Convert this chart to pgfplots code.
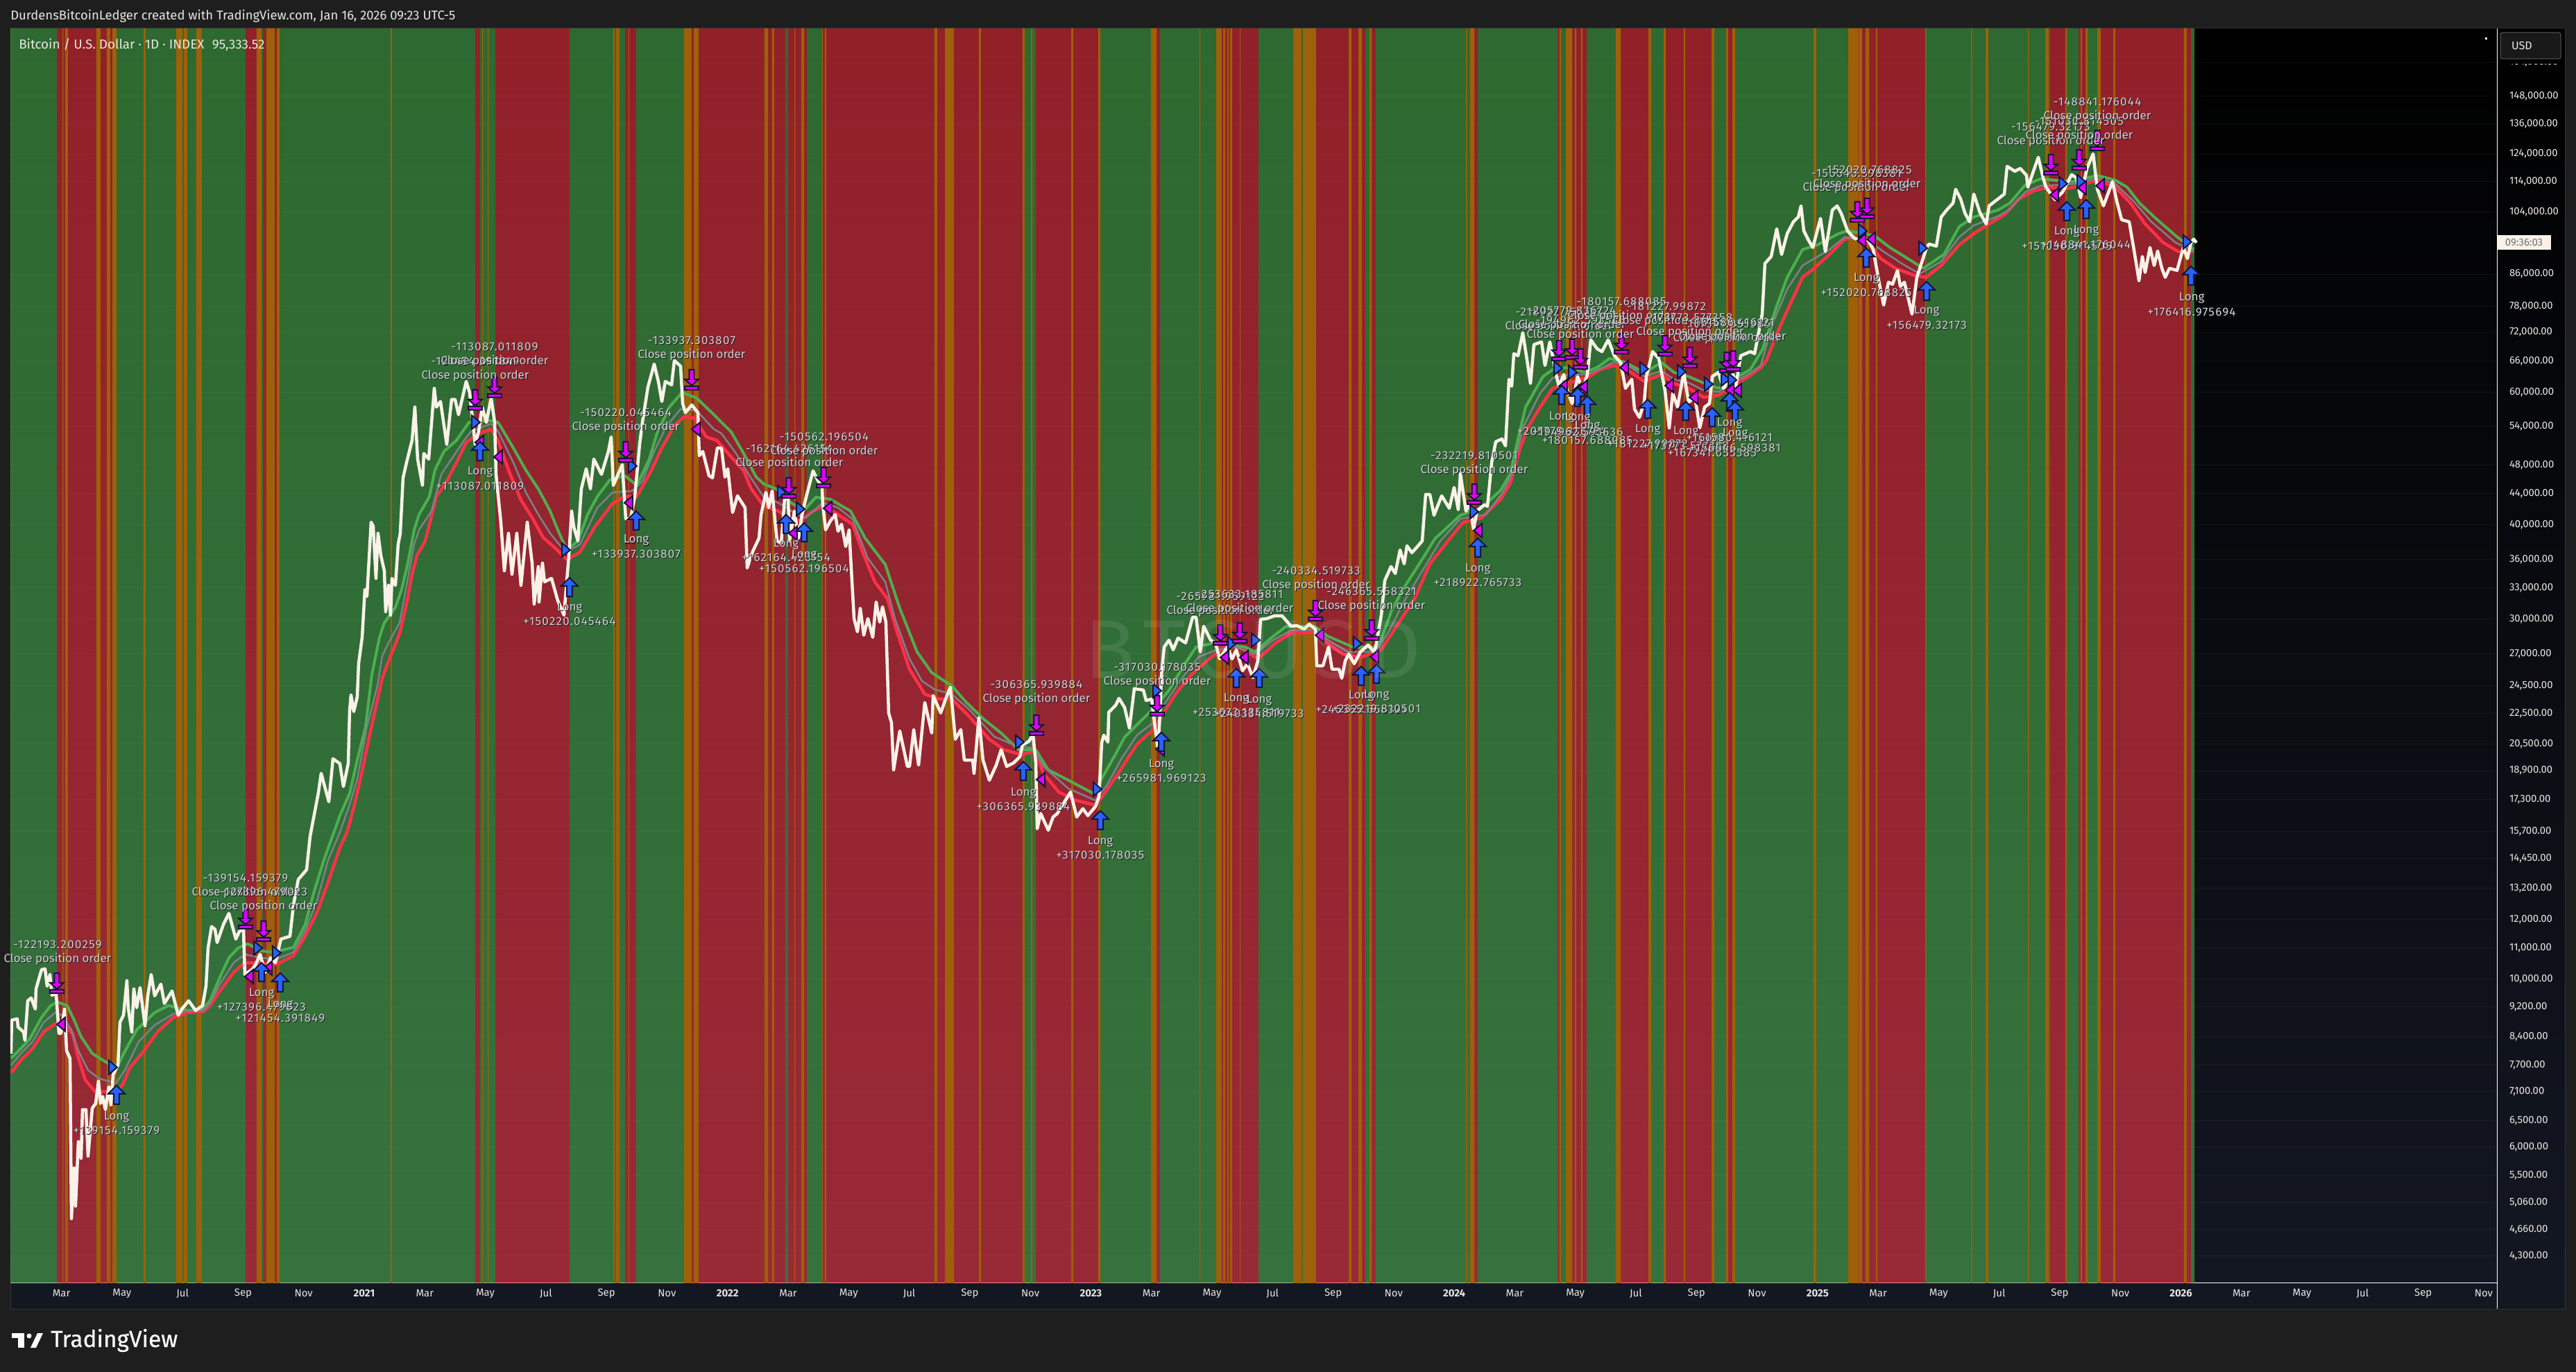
\documentclass[border=0pt]{standalone}
\usepackage{fontspec}
\setmainfont{Fira Sans}
\usepackage{pgfplots}
\usepackage{pgfplotstable}
\pgfplotsset{compat=1.18}

\definecolor{pagebg}{RGB}{30,30,30}
\definecolor{panelbot}{RGB}{19,23,34}
\definecolor{bandgreen}{RGB}{76,175,80}
\definecolor{bandred}{RGB}{242,54,69}
\definecolor{bandorange}{RGB}{158,96,8}
\definecolor{pricewhite}{RGB}{250,242,232}
\definecolor{emagreen}{RGB}{76,175,80}
\definecolor{emared}{RGB}{255,48,72}
\definecolor{emagray}{RGB}{125,128,140}
\definecolor{longblue}{RGB}{41,98,255}
\definecolor{closemag}{RGB}{224,0,255}
\definecolor{markedge}{RGB}{20,24,52}
\definecolor{labeltext}{RGB}{208,208,212}
\definecolor{labelshade}{RGB}{25,28,36}
\definecolor{tickwhite}{RGB}{232,230,226}

% one chart column = 0.25mm; readings are columns and rows of the chart, the
% price scale is fixed by the axis ticks (472.5 rows per e-fold, 10000 at row 1412)
\def\U{0.25mm}
\newcommand{\xc}{2020+(\thisrow{px}-1.3)/523.7}
\newcommand{\yc}{10000*exp((1412-\thisrow{py})/472.5)}
\newcommand{\onoff}{3957+178043*\thisrow{on}}

\pgfdeclareplotmark{longup}{%
  \pgfpathmoveto{\pgfpoint{0*\U}{14*\U}}
  \pgfpathlineto{\pgfpoint{12*\U}{2*\U}}
  \pgfpathlineto{\pgfpoint{4*\U}{2*\U}}
  \pgfpathlineto{\pgfpoint{4*\U}{-13*\U}}
  \pgfpathlineto{\pgfpoint{-4*\U}{-13*\U}}
  \pgfpathlineto{\pgfpoint{-4*\U}{2*\U}}
  \pgfpathlineto{\pgfpoint{-12*\U}{2*\U}}
  \pgfpathclose
  \pgfusepathqfillstroke}
\pgfdeclareplotmark{closedown}{%
  \pgfpathmoveto{\pgfpoint{-3.5*\U}{14*\U}}
  \pgfpathlineto{\pgfpoint{3.5*\U}{14*\U}}
  \pgfpathlineto{\pgfpoint{3.5*\U}{0*\U}}
  \pgfpathlineto{\pgfpoint{10*\U}{0*\U}}
  \pgfpathlineto{\pgfpoint{0*\U}{-9*\U}}
  \pgfpathlineto{\pgfpoint{-10*\U}{0*\U}}
  \pgfpathlineto{\pgfpoint{-3.5*\U}{0*\U}}
  \pgfpathclose
  \pgfpathmoveto{\pgfpoint{-10*\U}{-10*\U}}
  \pgfpathlineto{\pgfpoint{10*\U}{-10*\U}}
  \pgfpathlineto{\pgfpoint{10*\U}{-15*\U}}
  \pgfpathlineto{\pgfpoint{-10*\U}{-15*\U}}
  \pgfpathclose
  \pgfusepathqfillstroke}
\pgfdeclareplotmark{triright}{%
  \pgfpathmoveto{\pgfpoint{-6*\U}{10*\U}}
  \pgfpathlineto{\pgfpoint{6*\U}{0*\U}}
  \pgfpathlineto{\pgfpoint{-6*\U}{-10*\U}}
  \pgfpathclose
  \pgfusepathqfillstroke}
\pgfdeclareplotmark{trileft}{%
  \pgfpathmoveto{\pgfpoint{6*\U}{10*\U}}
  \pgfpathlineto{\pgfpoint{-6*\U}{0*\U}}
  \pgfpathlineto{\pgfpoint{6*\U}{-10*\U}}
  \pgfpathclose
  \pgfusepathqfillstroke}

\pgfplotstableread{
px on
15 1
82 0
168 1
354 0
377 1
379 0
403 1
685 0
692 1
714 0
821 1
901 0
917 1
986 0
1132 1
1136 0
1163 1
1185 0
1477 1
1493 0
1586 1
1667 0
1672 1
1761 0
1814 1
1897 0
1968 1
1977 0
1983 1
2125 0
2130 1
2245 0
2248 1
2266 0
2287 1
2336 0
2376 1
2401 0
2471 1
2491 0
2501 1
2678 0
2776 1
2955 0
2979 1
2996 0
3009 1
3028 0
3158 1
3163 0
}\greenbands

\pgfplotstableread{
px on
82 1
168 0
354 1
377 0
379 1
403 0
685 1
692 0
714 1
821 0
901 1
917 0
986 1
1132 0
1136 1
1163 0
1185 1
1477 0
1493 1
1586 0
1667 1
1672 0
1761 1
1814 0
1897 1
1968 0
1977 1
1983 0
2125 1
2130 0
2245 1
2248 0
2266 1
2287 0
2336 1
2376 0
2401 1
2471 0
2491 1
2501 0
2678 1
2776 0
2955 1
2979 0
2996 1
3009 0
3028 1
3158 0
}\redbands

\pgfplotstableread{
px on
90 1
91.5 0
94 1
98 0
139 1
145 0
154 1
159 0
162 1
168 0
207 1
210 0
254 1
263 0
265 1
270 0
283 1
291 0
370 1
377 0
384 1
396 0
399 1
403 0
563 1
565 0
695 1
696.5 0
703 1
704.5 0
884 1
886 0
888 1
893 0
906 1
907 0
986 1
997 0
1000 1
1007 0
1102 1
1107 0
1113 1
1116 0
1145 1
1146.5 0
1155 1
1159 0
1185 1
1186 0
1189 1
1191 0
1347 1
1351 0
1362 1
1375 0
1411 1
1414 0
1474 1
1477 0
1486 1
1488 0
1544 1
1547 0
1583 1
1586 0
1659 1
1667 0
1729 1
1730 0
1753 1
1761 0
1763 1
1766 0
1769 1
1771 0
1773 1
1776 0
1787 1
1788 0
1864 1
1876 0
1878 1
1897 0
1944 1
1948 0
1958 1
1963 0
1974 1
1977 0
2113 1
2114.5 0
2119 1
2125 0
2248 1
2250 0
2257 1
2266 0
2270 1
2272 0
2279 1
2281 0
2329 1
2336 0
2376 1
2380 0
2398 1
2401 0
2427 1
2429 0
2467 1
2471 0
2488 1
2491 0
2497 1
2501 0
2614 1
2618 0
2664 1
2678 0
2679 1
2684 0
2689 1
2694 0
2704 1
2706 0
2775 1
2776.5 0
2841 1
2842.5 0
2862 1
2866 0
2923 1
2924.5 0
2948 1
2953 0
2977 1
2979 0
2999 1
3001 0
3006 1
3009 0
3023 1
3028 0
3046 1
3049 0
3148 1
3152 0
}\orangebands

\pgfplotstableread{
px py
16 1519
17 1471
25 1469
26 1481
34 1488
36 1500
40 1443
45 1439
51 1455
52 1426
60 1398
65 1397
68 1422
72 1405
75 1435
81 1433
85 1490
88 1490
93 1455
96 1515
101 1526
103 1757
107 1684
109 1739
113 1646
117 1670
119 1600
124 1600
127 1667
133 1598
138 1591
142 1559
145 1591
148 1581
152 1600
157 1567
160 1593
163 1550
170 1536
173 1474
178 1464
183 1414
185 1454
190 1488
193 1426
197 1453
202 1424
209 1479
213 1436
218 1405
223 1436
232 1419
237 1447
248 1429
257 1464
263 1454
272 1443
282 1457
292 1450
297 1422
300 1367
305 1336
310 1340
313 1359
322 1333
330 1317
340 1354
345 1343
351 1340
353 1405
363 1398
368 1392
375 1376
382 1402
390 1381
397 1388
405 1354
418 1350
423 1305
430 1268
442 1254
447 1206
459 1143
463 1115
474 1156
480 1094
490 1101
495 1134
502 1101
504 1026
506 1002
510 1026
515 1005
517 957
522 919
526 850
529 860
535 753
538 759
542 834
545 769
549 801
554 823
556 882
560 844
563 887
565 834
570 844
574 785
577 769
581 689
586 667
594 635
598 587
602 662
609 700
611 654
618 662
626 560
629 587
635 579
644 641
651 576
656 576
661 598
672 550
677 566
685 641
690 622
695 587
701 609
708 574
713 609
715 684
722 753
727 823
733 769
738 828
745 769
751 844
760 753
767 812
770 871
776 817
777 868
782 812
785 839
795 834
804 866
813 887
820 801
824 737
827 759
833 780
838 705
845 676
851 705
856 662
867 684
877 651
881 630
884 700
897 670
902 748
909 748
915 716
922 641
926 609
934 558
943 525
949 550
954 579
959 550
968 555
972 520
981 528
984 582
988 595
997 584
1006 595
1008 657
1013 651
1022 686
1027 689
1034 646
1040 646
1045 688
1049 676
1056 739
1063 715
1074 732
1077 819
1085 795
1094 776
1097 742
1104 710
1108 732
1113 708
1120 780
1126 783
1131 720
1136 717
1138 780
1145 737
1151 776
1156 742
1163 713
1172 679
1179 693
1185 703
1186 727
1190 764
1197 751
1204 742
1208 766
1213 756
1219 788
1224 764
1227 819
1231 892
1236 911
1240 877
1245 916
1251 892
1258 919
1263 868
1268 897
1272 875
1277 897
1281 1028
1285 1042
1288 1110
1297 1054
1308 1105
1311 1105
1317 1052
1324 1103
1333 1013
1343 1057
1345 1003
1356 1028
1363 1008
1370 991
1377 1066
1385 1052
1390 1096
1402 1096
1404 1115
1411 1035
1417 1096
1426 1125
1436 1103
1443 1081
1451 1105
1461 1100
1470 1091
1474 1074
1483 1069
1489 1059
1493 1100
1495 1195
1500 1173
1511 1197
1518 1178
1524 1173
1543 1142
1552 1178
1561 1166
1568 1176
1579 1163
1584 1149
1588 1071
1591 1060
1597 1070
1598 1027
1608 1017
1613 1007
1621 1020
1628 1050
1635 993
1648 995
1652 1010
1660 1008
1663 1033
1669 1080
1672 1030
1674 973
1678 933
1685 923
1691 937
1698 920
1709 927
1719 890
1724 890
1730 940
1735 903
1745 923
1752 927
1758 950
1769 933
1776 950
1782 937
1791 967
1798 957
1806 977
1813 953
1817 893
1826 892
1837 888
1848 888
1861 903
1869 902
1880 907
1887 900
1896 907
1898 960
1907 960
1915 933
1920 965
1930 965
1934 978
1939 953
1944 943
1952 957
1961 940
1972 930
1980 940
1983 933
1991 887
1996 837
2005 817
2011 827
2018 793
2024 813
2028 787
2035 797
2044 787
2050 780
2055 713
2061 713
2067 743
2078 715
2089 733
2096 703
2102 735
2105 683
2113 737
2118 725
2124 763
2129 737
2139 728
2144 730
2150 667
2156 637
2165 633
2170 643
2175 547
2179 557
2182 510
2188 513
2195 480
2200 513
2206 553
2211 497
2222 493
2227 527
2234 493
2243 540
2247 557
2254 540
2259 563
2266 582
2274 543
2281 563
2288 540
2293 490
2302 503
2309 507
2318 490
2327 513
2336 523
2343 560
2352 547
2356 590
2363 602
2370 580
2373 543
2382 507
2391 517
2400 563
2406 617
2411 567
2418 587
2427 537
2434 580
2443 573
2450 617
2457 587
2464 582
2468 543
2477 537
2484 560
2498 540
2502 557
2509 513
2523 507
2529 510
2540 453
2544 380
2553 370
2561 330
2568 367
2576 337
2585 320
2592 313
2596 297
2600 333
2607 347
2613 357
2624 315
2631 363
2641 303
2648 297
2654 308
2663 333
2672 343
2680 347
2692 345
2700 360
2708 405
2715 440
2722 407
2728 410
2735 390
2739 413
2745 407
2756 453
2763 400
2776 360
2780 352
2791 355
2798 313
2806 303
2815 293
2819 273
2826 287
2832 307
2839 320
2845 280
2854 307
2863 323
2867 297
2880 287
2889 280
2893 240
2904 247
2912 243
2921 253
2923 270
2930 250
2938 227
2945 257
2949 270
2962 288
2973 277
2986 252
2993 257
2999 285
3008 243
3017 222
3023 273
3032 297
3045 262
3051 290
3058 317
3069 320
3077 367
3083 405
3088 370
3092 393
3099 357
3105 383
3110 362
3116 387
3121 400
3127 387
3138 390
3147 357
3153 373
3158 350
3162 345
3166 350
}\price

\pgfplotstableread{
px py
16 1547
30 1529
47 1512
63 1488
80 1476
90 1474
105 1491
112 1522
123 1557
137 1574
167 1574
177 1564
187 1540
207 1516
227 1488
250 1467
270 1460
293 1459
303 1450
317 1429
337 1402
353 1388
400 1390
423 1378
440 1350
457 1316
477 1261
490 1222
501 1198
511 1160
522 1112
533 1059
544 1010
551 978
561 951
576 914
586 871
594 828
601 801
613 780
629 716
644 694
658 667
672 638
690 625
708 619
718 635
733 678
751 721
768 748
783 775
801 791
817 807
836 796
858 759
883 726
901 716
918 716
936 684
954 646
972 614
986 601
1001 603
1018 630
1033 635
1054 659
1072 679
1083 705
1101 730
1122 737
1136 747
1154 751
1169 739
1186 730
1208 742
1229 756
1243 795
1261 839
1279 863
1293 911
1311 965
1333 1001
1354 1008
1372 1008
1397 1033
1426 1066
1447 1081
1472 1088
1492 1083
1504 1115
1526 1142
1551 1154
1579 1161
1595 1140
1617 1107
1639 1073
1661 1053
1676 1030
1695 1000
1717 973
1743 950
1765 933
1787 933
1813 950
1839 927
1861 913
1895 912
1913 927
1935 943
1961 948
1991 937
2013 903
2039 863
2061 813
2087 780
2109 753
2135 747
2163 720
2177 697
2191 647
2202 617
2220 587
2238 560
2291 543
2306 533
2327 527
2345 533
2370 550
2395 540
2413 553
2434 560
2456 573
2477 570
2498 557
2520 543
2538 530
2546 520
2563 477
2581 437
2598 400
2615 387
2637 367
2659 345
2672 343
2693 350
2711 373
2732 387
2759 397
2776 400
2798 383
2824 353
2845 337
2867 323
2889 310
2910 287
2932 275
2954 270
2975 273
2997 268
3023 260
3049 270
3071 293
3092 323
3118 350
3140 363
3162 363
}\emalow

\pgfplotstableread{
px py
16 1526
30 1512
43 1498
60 1467
73 1450
83 1445
97 1450
107 1471
117 1495
133 1519
157 1534
170 1536
180 1516
197 1485
223 1460
243 1450
270 1457
290 1457
303 1443
317 1409
330 1381
343 1367
357 1361
377 1371
393 1373
423 1366
440 1333
453 1285
467 1240
490 1176
504 1144
515 1096
527 1048
536 973
547 919
554 898
570 876
579 850
588 812
597 764
604 742
619 716
627 678
640 651
658 635
676 609
704 606
718 609
740 646
758 678
776 705
793 737
804 764
817 793
833 780
847 742
861 716
879 692
901 686
918 700
936 662
947 625
965 587
983 566
1004 574
1026 595
1054 623
1072 654
1090 688
1101 698
1119 705
1136 722
1158 737
1176 717
1197 720
1226 737
1247 776
1276 814
1297 877
1322 940
1343 970
1372 989
1393 1013
1418 1037
1443 1057
1468 1081
1493 1081
1511 1110
1540 1125
1576 1144
1608 1087
1621 1063
1647 1037
1661 1023
1684 997
1706 960
1724 933
1750 927
1772 930
1795 933
1809 940
1832 920
1854 903
1895 903
1913 917
1950 933
1987 933
2006 880
2024 847
2054 800
2068 777
2105 743
2135 733
2163 707
2177 683
2188 633
2199 587
2224 543
2238 533
2259 530
2284 537
2302 530
2320 517
2341 522
2370 537
2395 523
2413 537
2434 543
2457 553
2477 560
2498 547
2523 533
2541 503
2559 447
2576 400
2598 360
2620 353
2650 337
2663 333
2702 340
2724 357
2745 370
2772 387
2802 367
2824 327
2845 313
2880 303
2897 293
2919 267
2941 258
2962 260
2988 262
3023 253
3049 260
3066 270
3084 293
3105 313
3136 340
3162 360
}\emahigh

\pgfplotstableread{
px py
16 1536
30 1519
47 1502
63 1474
80 1460
90 1464
103 1485
113 1515
127 1543
143 1555
167 1562
180 1543
200 1502
223 1478
250 1462
270 1458
292 1458
303 1447
317 1419
337 1388
353 1376
377 1381
398 1383
423 1373
440 1342
457 1299
473 1240
490 1200
504 1160
515 1123
529 1048
544 989
551 946
561 925
576 898
586 844
597 785
604 764
622 737
636 684
651 662
669 635
679 622
708 611
718 622
740 667
758 710
776 742
793 769
815 796
836 785
861 732
883 710
911 708
926 694
943 651
961 614
981 590
1004 592
1029 619
1040 625
1061 654
1079 684
1101 717
1122 725
1144 739
1161 747
1186 725
1208 732
1229 749
1251 805
1276 839
1290 892
1311 950
1329 982
1347 994
1372 1001
1397 1023
1433 1062
1461 1074
1490 1079
1504 1105
1540 1137
1579 1154
1595 1133
1617 1093
1639 1060
1661 1043
1680 1013
1702 980
1728 947
1754 937
1780 933
1809 943
1835 923
1861 909
1895 908
1913 922
1943 940
1983 940
2002 910
2024 867
2046 830
2076 780
2105 748
2142 742
2166 710
2181 680
2195 617
2220 567
2238 545
2263 540
2288 540
2306 532
2327 522
2348 528
2370 543
2395 535
2413 547
2434 552
2456 563
2477 565
2498 552
2523 538
2538 527
2555 467
2576 417
2598 383
2615 373
2637 360
2659 342
2693 347
2715 363
2741 380
2767 395
2798 377
2824 342
2845 325
2880 312
2897 302
2919 277
2941 268
2962 267
2993 265
3023 257
3049 265
3075 290
3101 320
3136 350
3162 362
}\emamid

\pgfplotstableread{
px py
168 1579
377 1402
404 1417
692 651
821 847
917 751
1133 756
1159 768
1475 1112
1586 1183
1674 1070
1782 978
1815 978
1962 975
1984 972
2130 790
2251 570
2274 573
2288 585
2375 590
2430 593
2468 602
2493 580
2501 593
2690 372
2777 420
2979 305
3007 302
3158 398
}\longs

\pgfplotstableread{
px py
82 1417
354 1324
380 1342
685 576
713 558
902 651
997 547
1137 703
1187 688
1494 1045
1668 1017
1759 915
1787 912
1896 880
1977 908
2125 712
2247 505
2266 503
2278 517
2337 495
2400 498
2436 515
2489 522
2498 520
2677 305
2691 300
2956 237
2997 230
3023 202
}\closes

\pgfplotstableread{
px py
163 1539
372 1367
399 1374
686 609
816 793
912 672
1127 710
1154 734
1470 1070
1582 1138
1668 996
1776 928
1810 923
1957 928
2125 738
2246 531
2267 537
2370 532
2424 536
2463 554
2487 547
2497 548
2685 333
2772 358
2974 265
3000 262
3153 349
}\crossup

\pgfplotstableread{
px py
88 1477
359 1408
386 1396
691 638
718 659
906 725
1003 619
1143 769
1193 733
1500 1124
1672 1080
1765 948
1793 948
1902 916
1981 947
2130 765
2253 557
2273 563
2282 558
2341 530
2406 556
2441 573
2493 563
2504 563
2683 347
2697 345
2961 281
3001 271
3027 268
}\crossdown

% one text line at chart column/row, with the dark offset TradingView gives it
\newcommand{\lab}[3]{%
  \node[text=labelshade,font=\labfont] at ({((#1)-15+1)*\U},{(1850-(#2)-1)*\U}) {#3};
  \node[text=labeltext,font=\labfont] at ({((#1)-15)*\U},{(1850-(#2))*\U}) {#3};}
\newcommand{\labfont}{\fontsize{12pt}{14pt}\selectfont}
\newcommand{\wide}[1]{{\addfontfeatures{LetterSpace=8}#1}}
\newcommand{\closelab}[3]{\lab{#1}{#2}{\wide{#3}}\lab{#1}{#2+21}{Close position order}}
\newcommand{\longlab}[3]{\lab{#1}{#2}{Long}\lab{#1}{#2+20}{\wide{#3}}}

\begin{document}
\begin{tikzpicture}
% page and panels
\fill[pagebg] (-15*\U,-128*\U) rectangle (3698*\U,1850*\U);
\useasboundingbox (-15*\U,-128*\U) rectangle (3698*\U,1850*\U);
\shade[top color=black,bottom color=panelbot] (0,0) rectangle (3682*\U,1809*\U);
\fill[panelbot] (0,-37*\U) rectangle (3682*\U,0);
\draw[black!60!gray,line width=\U] (0,-37*\U) rectangle (3682*\U,1809*\U);

\begin{axis}[
    at={(0,0)},anchor=south west,
    scale only axis,
    width=3584*\U,
    height=1809*\U,
    ymode=log,
    xmin=2020.0262,xmax=2026.8698,
    ymin=3957,ymax=182000,
    axis x line=bottom,
    axis y line=right,
    axis line style={-,white,line width=\U},
    xtick={2020.1667,2020.3333,2020.5,2020.6667,2020.8333,2021,2021.1667,2021.3333,2021.5,2021.6667,2021.8333,2022,2022.1667,2022.3333,2022.5,2022.6667,2022.8333,2023,2023.1667,2023.3333,2023.5,2023.6667,2023.8333,2024,2024.1667,2024.3333,2024.5,2024.6667,2024.8333,2025,2025.1667,2025.3333,2025.5,2025.6667,2025.8333,2026,2026.1667,2026.3333,2026.5,2026.6667,2026.8333},
    xticklabels={Mar,May,Jul,Sep,Nov,\textbf{2021},Mar,May,Jul,Sep,Nov,\textbf{2022},Mar,May,Jul,Sep,Nov,\textbf{2023},Mar,May,Jul,Sep,Nov,\textbf{2024},Mar,May,Jul,Sep,Nov,\textbf{2025},Mar,May,Jul,Sep,Nov,\textbf{2026},Mar,May,Jul,Sep,Nov},
    ytick={4300,4660,5060,5500,6000,6500,7100,7700,8400,9200,10000,11000,12000,13200,14450,15700,17300,18900,20500,22500,24500,27000,30000,33000,36000,40000,44000,48000,54000,60000,66000,72000,78000,86000,104000,114000,124000,136000,148000,164000},
    yticklabels={{4,300.00},{4,660.00},{5,060.00},{5,500.00},{6,000.00},{6,500.00},{7,100.00},{7,700.00},{8,400.00},{9,200.00},{10,000.00},{11,000.00},{12,000.00},{13,200.00},{14,450.00},{15,700.00},{17,300.00},{18,900.00},{20,500.00},{22,500.00},{24,500.00},{27,000.00},{30,000.00},{33,000.00},{36,000.00},{40,000.00},{44,000.00},{48,000.00},{54,000.00},{60,000.00},{66,000.00},{72,000.00},{78,000.00},{86,000.00},{104,000.00},{114,000.00},{124,000.00},{136,000.00},{148,000.00},{164,000.00}},
    minor tick num=0,
    log ticks with fixed point,
    major tick length=0pt,
    minor tick length=0pt,
    ymajorgrids,
    y grid style={white,opacity=0.05,line width=\U},
    tick label style={text=tickwhite,font=\fontsize{10.6pt}{12pt}\selectfont},
    y tick label style={anchor=west,xshift=13*\U},
    x tick label style={anchor=center,yshift=-15*\U},
    clip=true,
]
\addplot[const plot,fill=bandgreen,draw=none,fill opacity=0.6] table[x expr=\xc,y expr=\onoff] {\greenbands} \closedcycle;
\addplot[const plot,fill=bandred,draw=none,fill opacity=0.6] table[x expr=\xc,y expr=\onoff] {\redbands} \closedcycle;
\addplot[const plot,fill=bandorange,draw=none] table[x expr=\xc,y expr=\onoff] {\orangebands} \closedcycle;

\addplot[emared,line width=4.5*\U,line join=round] table[x expr=\xc,y expr=\yc] {\emalow};
\addplot[emagreen,line width=4*\U,line join=round] table[x expr=\xc,y expr=\yc] {\emahigh};
\addplot[emagray,line width=2.5*\U,line join=round] table[x expr=\xc,y expr=\yc] {\emamid};
\addplot[pricewhite,line width=4.5*\U,line join=round] table[x expr=\xc,y expr=\yc] {\price};

\addplot[only marks,mark=triright,mark options={draw=markedge,fill=longblue,line width=2*\U}] table[x expr=\xc,y expr=\yc] {\crossup};
\addplot[only marks,mark=trileft,mark options={draw=markedge,fill=closemag,line width=2*\U}] table[x expr=\xc,y expr=\yc] {\crossdown};
\addplot[only marks,mark=longup,mark options={draw=markedge,fill=longblue,line width=2*\U}] table[x expr=\xc,y expr=\yc] {\longs};
\addplot[only marks,mark=closedown,mark options={draw=markedge,fill=closemag,line width=2*\U}] table[x expr=\xc,y expr=\yc] {\closes};
\end{axis}

% right price line runs on through the time panel
\draw[white,line width=\U] (3584*\U,0) -- (3584*\U,-37*\U);
\fill[pricewhite] (3584*\U,1490*\U) rectangle (3662*\U,1511*\U);
\node[anchor=center,text=black!55,font=\fontsize{10.6pt}{12pt}\selectfont] at (3623*\U,1500.5*\U) {09:36:03};

% USD button, what it hides of the top tick label, and the little dot
\fill[black] (3586*\U,1758*\U) rectangle (3681*\U,1808*\U);
\fill[black!90,draw=black!65,rounded corners=3*\U,line width=\U] (3589*\U,1765*\U) rectangle (3676*\U,1803*\U);
\node[anchor=west,text=tickwhite,font=\fontsize{11.5pt}{13pt}\selectfont] at (3600*\U,1784*\U) {USD};
\fill[white] (3566.5*\U,1792.5*\U) rectangle (3570*\U,1796*\U);

% headers
\node[anchor=west,inner sep=0pt,text=tickwhite,font=\fontsize{13.1pt}{15pt}\selectfont] at (0,1827*\U) {DurdensBitcoinLedger created with TradingView.com, Jan 16, 2026 09:23 UTC-5};
\node[anchor=west,inner sep=0pt,text=tickwhite,font=\fontsize{13.4pt}{15pt}\selectfont] at (12*\U,1786*\U) {Bitcoin / U.S. Dollar · 1D · INDEX\hspace{0.6em}95,333.52};

% watermark
\node[text=white,text opacity=0.09,font=\fontsize{85pt}{95pt}\selectfont\addfontfeatures{LetterSpace=12},anchor=center] at (1791*\U,914*\U) {BTCUSD};

% logo
\fill[white] (2*\U,-72*\U) rectangle (20*\U,-79*\U);
\fill[white] (11*\U,-79*\U) rectangle (20*\U,-93*\U);
\fill[white] (27*\U,-76*\U) circle (3.5*\U);
\fill[white] (39*\U,-72*\U) -- (47*\U,-72*\U) -- (37*\U,-93*\U) -- (29*\U,-93*\U) -- cycle;
\node[anchor=west,inner sep=0pt,text=white,font=\fontsize{23.8pt}{28pt}\selectfont\addfontfeatures{FakeBold=0.3}] at (58*\U,-82.5*\U) {TradingView};

% trade labels
\closelab{83}{1362}{-122193.200259}
\closelab{354}{1266}{-139154.159379}
\closelab{380}{1286}{-127396.479023}
\closelab{685}{521}{-121454.391849}
\closelab{713}{500}{-113087.011809}
\closelab{902}{595}{-150220.045464}
\closelab{997}{491}{-133937.303807}
\closelab{1138}{647}{-162164.426154}
\closelab{1188}{630}{-150562.196504}
\closelab{1494}{987}{-306365.939884}
\closelab{1668}{962}{-317030.178035}
\closelab{1759}{860}{-265981.969123}
\closelab{1787}{857}{-253633.185811}
\closelab{1897}{823}{-240334.519733}
\closelab{1977}{853}{-246365.568321}
\closelab{2125}{657}{-232219.810501}
\closelab{2247}{450}{-218922.765733}
\closelab{2266}{448}{-205779.836724}
\closelab{2278}{462}{-194962.593536}
\closelab{2337}{435}{-180157.688085}
\closelab{2402}{442}{-181227.99872}
\closelab{2436}{458}{-173773.577358}
\closelab{2489}{467}{-167341.055385}
\closelab{2497}{465}{-161586.416121}
\closelab{2676}{250}{-156646.598381}
\closelab{2691}{245}{-152020.768825}
\closelab{2956}{183}{-156479.32173}
\closelab{2997}{175}{-151030.814505}
\closelab{3023}{147}{-148841.176044}

\longlab{168}{1610}{+139154.159379}
\longlab{377}{1432}{+127396.479023}
\longlab{404}{1448}{+121454.391849}
\longlab{692}{681}{+113087.011809}
\longlab{821}{876}{+150220.045464}
\longlab{917}{779}{+133937.303807}
\longlab{1133}{784}{+162164.426154}
\longlab{1159}{800}{+150562.196504}
\longlab{1475}{1143}{+306365.939884}
\longlab{1586}{1213}{+317030.178035}
\longlab{1674}{1102}{+265981.969123}
\longlab{1782}{1007}{+253633.185811}
\longlab{1815}{1009}{+240334.519733}
\longlab{1962}{1003}{+246365.568321}
\longlab{1984}{1002}{+232219.810501}
\longlab{2130}{820}{+218922.765733}
\longlab{2251}{602}{+205779.836724}
\longlab{2274}{603}{+194962.593536}
\longlab{2288}{615}{+180157.688085}
\longlab{2375}{620}{+181227.99872}
\longlab{2430}{623}{+173773.577358}
\longlab{2468}{633}{+167341.055385}
\longlab{2493}{611}{+161586.416121}
\longlab{2501}{626}{+156646.598381}
\longlab{2690}{402}{+152020.768825}
\longlab{2777}{449}{+156479.32173}
\longlab{2979}{335}{+151030.814505}
\longlab{3007}{333}{+148841.176044}
\longlab{3159}{430}{+176416.975694}
\end{tikzpicture}
\end{document}
